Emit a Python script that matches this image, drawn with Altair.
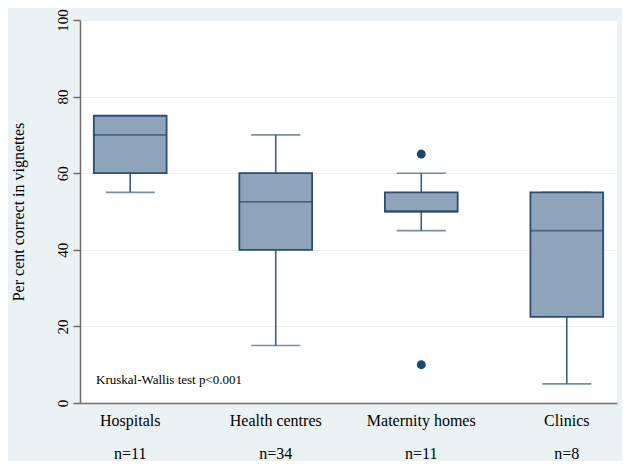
import altair as alt
import pandas as pd

categories = ["Hospitals", "Health centres", "Maternity homes", "Clinics"]
n_values = [11, 34, 11, 8]
whisker_low = [55, 15, 45, 5]
q1 = [60, 40, 50, 22.5]
median = [70, 52.5, 50, 45]
q3 = [75, 60, 55, 55]
whisker_high = [75, 70, 60, 55]
outlier_cat = ["Maternity homes", "Maternity homes"]
outlier_val = [65, 10]

labels = [f"{c}|n={n}" for c, n in zip(categories, n_values)]
lab_map = dict(zip(categories, labels))

df = pd.DataFrame({
    "cat": labels,
    "wlo": whisker_low,
    "q1": q1,
    "med": median,
    "q3": q3,
    "whi": whisker_high,
})
out_df = pd.DataFrame({"cat": [lab_map[c] for c in outlier_cat], "val": outlier_val})
note_df = pd.DataFrame({"t": ["Kruskal-Wallis test p<0.001"]})

FONT = "Liberation Serif"
NAVY = "#1a476f"
FILL = "#8fa4ba"
BG = "#eaf2f3"

xscale = alt.Scale(domain=labels, paddingInner=0.5, paddingOuter=0.095)
yscale = alt.Scale(domain=[0, 100], nice=False)

xenc = alt.X("cat:N", scale=xscale, sort=labels, axis=alt.Axis(
    title=None, labelExpr="split(datum.label, '|')", labelAngle=0,
    labelFont=FONT, labelFontSize=16, labelColor="#000000",
    labelLineHeight=33, labelPadding=9, ticks=False,
    domainColor="#6e6e6e", domainWidth=1.5, grid=False))

yaxis = alt.Axis(
    title="Per cent correct in vignettes", titleFont=FONT, titleFontSize=16,
    titleFontWeight="normal", titleColor="#000000", titlePadding=29,
    values=[0, 20, 40, 60, 80, 100], labelAngle=270, labelFont=FONT,
    labelFontSize=15, labelColor="#000000", labelPadding=3,
    tickSize=7, tickColor="#6e6e6e", tickWidth=1.5,
    domainColor="#6e6e6e", domainWidth=1.5,
    grid=True, gridColor=BG, gridWidth=1.2)

base = alt.Chart(df)

whisk_lo = base.mark_rule(color="#3b5f82", strokeWidth=1.6).encode(
    x=xenc, y=alt.Y("wlo:Q", scale=yscale, axis=yaxis), y2="q1:Q")
whisk_hi = base.mark_rule(color="#3b5f82", strokeWidth=1.6).encode(
    x=xenc, y=alt.Y("q3:Q", scale=yscale), y2="whi:Q")
cap_lo = base.mark_tick(color="#3b5f82", thickness=1.6, size=49, orient="horizontal").encode(
    x=xenc, y=alt.Y("wlo:Q", scale=yscale))
cap_hi = base.mark_tick(color="#3b5f82", thickness=1.6, size=49, orient="horizontal").encode(
    x=xenc, y=alt.Y("whi:Q", scale=yscale))
box = base.mark_bar(fill=FILL, stroke="#2a4d70", strokeWidth=1.8).encode(
    x=xenc, y=alt.Y("q1:Q", scale=yscale), y2="q3:Q")
med = base.mark_tick(color="#2a4d70", thickness=1.8, size=73, orient="horizontal").encode(
    x=xenc, y=alt.Y("med:Q", scale=yscale))
outl = alt.Chart(out_df).mark_circle(color=NAVY, size=80, opacity=1).encode(
    x=alt.X("cat:N", scale=xscale, sort=labels), y=alt.Y("val:Q", scale=yscale))
note = alt.Chart(note_df).mark_text(
    font=FONT, fontSize=13, align="left", baseline="middle", color="#000000"
).encode(x=alt.value(16), y=alt.value(360), text="t:N")

chart = alt.layer(whisk_lo, whisk_hi, cap_lo, cap_hi, box, med, outl, note).properties(
    width=537, height=383,
    background=BG,
    padding={"left": 72, "top": 12, "right": 5, "bottom": 58},
    autosize=alt.AutoSizeParams(type="none"),
).configure_view(fill="white", stroke=None).configure_axis(
    labelFont=FONT, titleFont=FONT
).configure_text(font=FONT)

chart.save("out.html", embed_options={"renderer": "svg", "actions": False})
